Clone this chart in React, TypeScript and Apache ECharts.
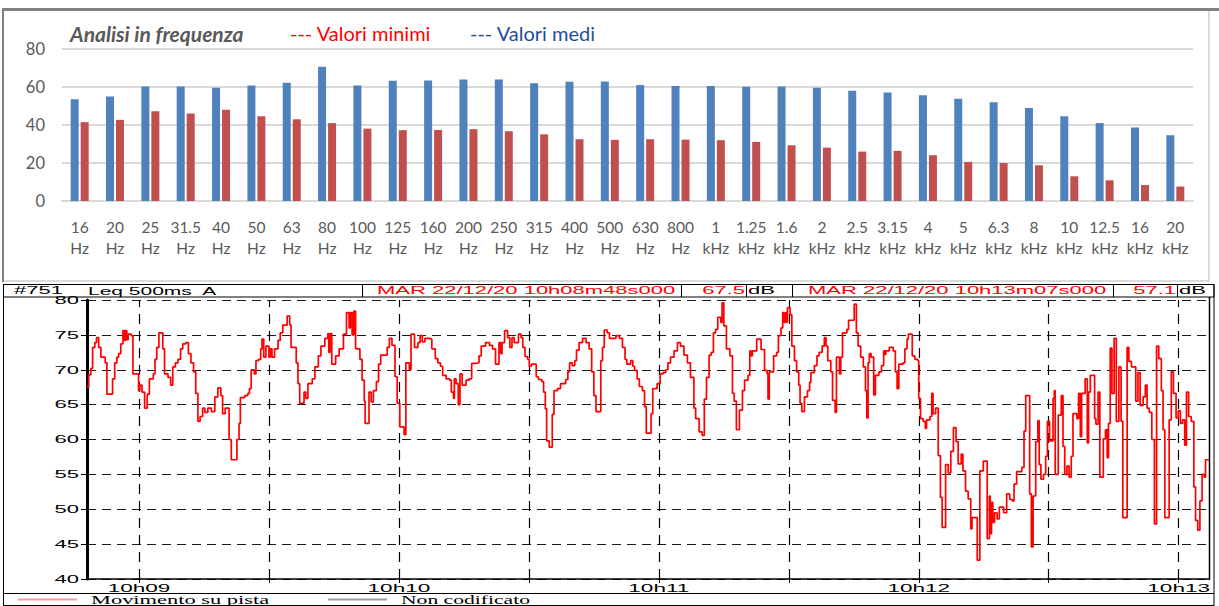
import React, { useEffect, useRef } from 'react';
import * as echarts from 'echarts';

// ---------- Top panel: frequency analysis ----------
const bandLabels = [
  '16\nHz', '20\nHz', '25\nHz', '31.5\nHz', '40\nHz', '50\nHz', '63\nHz', '80\nHz',
  '100\nHz', '125\nHz', '160\nHz', '200\nHz', '250\nHz', '315\nHz', '400\nHz', '500\nHz',
  '630\nHz', '800\nHz', '1\nkHz', '1.25\nkHz', '1.6\nkHz', '2\nkHz', '2.5\nkHz', '3.15\nkHz',
  '4\nkHz', '5\nkHz', '6.3\nkHz', '8\nkHz', '10\nkHz', '12.5\nkHz', '16\nkHz', '20\nkHz',
];
const meanLevels = [
  53.6, 55, 60.3, 60.3, 59.6, 60.8, 62.2, 70.7, 60.8, 63.3, 63.4, 64, 64, 62, 62.7, 62.9,
  61, 60.5, 60.5, 60.1, 60.3, 59.6, 58, 57.1, 55.7, 53.8, 52, 48.9, 44.6, 41, 38.7, 34.6,
];
const minLevels = [
  41.5, 42.7, 47.3, 46, 48, 44.6, 43, 41, 38.1, 37.3, 37.4, 37.8, 36.7, 35.1, 32.5, 32.2,
  32.5, 32.3, 32, 31.1, 29.3, 28.1, 26, 26.4, 24.1, 20.6, 20, 18.8, 13, 10.9, 8.4, 7.6,
];
const barTitle = 'Analisi in frequenza';
const minLegend = '--- Valori minimi';
const meanLegend = '--- Valori medi';

// ---------- Bottom panel: Leq 500ms A time history ----------
const traceStartSecond = 528; // 10h08m48s (seconds after 10h00)
const traceEndSecond = 787; // 10h13m07s
// [seconds after start, dB]
const levelTrace: [number, number][] = [
  [0, 67.5], [0.4, 69.3], [0.9, 70.2], [1.3, 73.2], [1.8, 73.9], [2.2, 74.6], [2.7, 73.2], [3.2, 71.8],
  [4.2, 71], [4.6, 66.5], [5.9, 68.7], [6.4, 71], [6.9, 71.8], [7.3, 72.3], [7.8, 73.7], [8.3, 75.6],
  [8.7, 74.2], [8.9, 75.6], [9.2, 74.3], [9.5, 75.1], [10.2, 74.9], [10.6, 69.4], [11.9, 67], [12.2, 67.8],
  [12.7, 66.8], [13.3, 64.5], [13.9, 66.5], [14.4, 68.7], [15.3, 69.4], [15.7, 71.5], [16.1, 73.2], [16.6, 75.3],
  [17.5, 73], [17.9, 69.4], [18.7, 68.9], [19.3, 67.8], [19.8, 70.4], [20.4, 71], [21, 71.5], [21.6, 73],
  [22.1, 73.7], [22.8, 73.9], [23.4, 72.3], [24, 71], [24.6, 69.7], [25.1, 66.6], [25.6, 62.6], [26.1, 63.3],
  [26.7, 64.5], [27.2, 63.9], [27.9, 64.5], [28.7, 64], [29.5, 66.1], [30.2, 67.4], [30.9, 66.3], [31.3, 63.7],
  [31.9, 64.5], [32.8, 60], [33.3, 57.1], [34.6, 60], [35.1, 62.3], [35.4, 66], [36.4, 66.3], [37.1, 66.6],
  [37.5, 67.3], [37.9, 70], [38.6, 69.4], [39, 71.3], [39.6, 71.5], [40.1, 73], [40.4, 74.4], [40.8, 71.8],
  [41.3, 73.4], [42, 71.8], [42.3, 73], [42.7, 71.8], [43.3, 73], [44.1, 74.2], [44.6, 75.3], [45.2, 76.4],
  [46.2, 77.7], [46.8, 76.4], [47.1, 73.2], [48.3, 71], [48.7, 68], [49.1, 65.2], [50.1, 66.8], [50.5, 65.9],
  [51, 68], [52, 68.7], [52.6, 70.4], [53.4, 72], [54, 73.4], [54.9, 74.5], [55.6, 75.2], [55.8, 72.5],
  [56.1, 75.2], [56.5, 70.8], [57.4, 72], [58.2, 73], [59.2, 75.1], [59.9, 78.2], [60.5, 76], [60.8, 78.2],
  [61.2, 75], [61.6, 78.4], [62, 73], [63, 71.5], [63.5, 68.5], [64, 65.5], [64.2, 62.3], [65.1, 66.8],
  [65.6, 65.4], [66.1, 67], [66.8, 68.3], [67.3, 70.8], [67.8, 72.1], [69.3, 73.2], [69.8, 74.5], [70.4, 73.5],
  [71.1, 69], [71.6, 65.2], [72.2, 61.8], [73.2, 60.7], [73.6, 71], [74.4, 70], [74.8, 75.1], [75.6, 73.2],
  [76.4, 73.9], [76.9, 74.9], [77.4, 74], [78, 74.5], [79, 74.4], [79.6, 73], [80.4, 71.6], [81, 71],
  [81.6, 70.5], [82.1, 69.2], [82.9, 68.7], [83.7, 68.5], [84.1, 66.8], [84.6, 65.9], [84.8, 68.7], [85.2, 68],
  [85.7, 65], [86.1, 69.4], [86.6, 67.8], [87.5, 68.5], [88.2, 68.7], [88.8, 70.9], [89.8, 71], [90.5, 72],
  [91, 73.4], [92, 73.9], [92.9, 73.5], [93.6, 73], [94.3, 70.8], [95.1, 73.9], [95.5, 72.3], [95.8, 73.9],
  [96.4, 75.6], [97.1, 74.6], [97.6, 73.2], [98.1, 74.6], [98.6, 73.9], [99.6, 75.1], [100.2, 74.6], [100.6, 73.2],
  [101.1, 71.9], [101.7, 71.5], [102.1, 70.5], [102.6, 70.8], [103.7, 69], [104.2, 68.6], [105, 68.3], [105.4, 66.8],
  [105.8, 64.4], [106.1, 59.8], [106.7, 58.9], [107.4, 63.6], [107.8, 67], [108.6, 67.3], [109.3, 68], [110.5, 68.6],
  [111, 69.7], [111.4, 71], [112, 70.6], [112.6, 71.3], [113, 72.8], [113.6, 73.9], [114.4, 74.5], [115.2, 73.9],
  [115.9, 73], [116.5, 69.7], [117, 66.3], [117.5, 64], [118.6, 71.3], [119, 73.2], [119.4, 75.7], [120.1, 75.3],
  [120.6, 74.5], [122.1, 74.9], [122.9, 74.5], [123.6, 73.2], [124.2, 71.5], [124.6, 70.8], [125.5, 71.3], [126, 70.5],
  [126.4, 69.9], [127, 68.7], [127.5, 67.6], [128.2, 67], [128.7, 64.7], [129.1, 60.9], [130.2, 63.7], [130.6, 67.3],
  [131.6, 68], [132.3, 69.4], [133, 69.6], [133.6, 70], [134.1, 71], [134.7, 71.8], [135.5, 72.7], [136.3, 73.9],
  [137, 73.4], [137.8, 72.1], [138.6, 71], [139.3, 68.9], [140.1, 64.5], [140.5, 63], [141.3, 61.1], [142, 60.6],
  [142.5, 65.8], [143, 68.9], [143.6, 72.1], [144.1, 72.5], [144.6, 75.3], [145.1, 75.8], [145.6, 77.5], [146.3, 76.8],
  [146.6, 79.6], [147, 76.3], [147.6, 73], [148.4, 72], [149, 66.6], [149.4, 65.5], [149.9, 61.4], [150.6, 64.2],
  [151.3, 67], [151.8, 68.5], [152.6, 69.2], [153, 72.7], [153.3, 72], [153.6, 72.7], [154.6, 74.4], [155.6, 72.9],
  [156.4, 69.9], [157, 69.4], [157.2, 65.8], [157.5, 69.7], [158.5, 72], [159.2, 72.5], [159.6, 74.9], [160.2, 76],
  [160.6, 78.2], [160.9, 76.8], [161.2, 78.2], [161.5, 76.8], [161.7, 78.9], [162.3, 77.9], [162.7, 73.4], [163.3, 71.3],
  [163.8, 69.7], [164.3, 67.8], [164.6, 65.2], [165, 64], [165.6, 66.1], [166.3, 67], [166.8, 68.2], [167.1, 69.6],
  [167.9, 70.6], [168.5, 72], [169, 72.5], [169.7, 73.4], [170.2, 74.6], [170.6, 73.4], [171, 71.3], [171.7, 69.7],
  [172.1, 65.6], [172.7, 63.9], [173, 71.8], [173.7, 69.4], [174, 71.8], [174.4, 75.3], [175.4, 75.8], [175.8, 77.1],
  [177.1, 79.4], [177.6, 75.3], [178, 73.4], [178.6, 71.8], [179.2, 70.4], [179.7, 67], [180, 63.1], [180.3, 71],
  [180.6, 72.3], [181, 71.8], [181.6, 66.4], [182, 69.2], [182.8, 69.7], [183.4, 70.6], [183.9, 72.7], [184.2, 72.2],
  [184.4, 72.7], [185.2, 73.2], [186.1, 72.7], [186.6, 69.7], [187, 67.3], [187.4, 70.8], [188.4, 71], [188.8, 73],
  [189.3, 74.4], [189.6, 75.1], [190.5, 72], [191.1, 71.5], [191.8, 71.3], [192, 65.9], [192.4, 63], [193, 62.6],
  [193.5, 61.6], [193.8, 62.8], [194.6, 63.3], [195, 66.6], [195.3, 63.7], [195.9, 64.5], [196.5, 57.7], [197, 51.7],
  [197.4, 47.4], [198.2, 56.4], [198.8, 55.2], [199.4, 58.3], [200, 61.7], [200.6, 59.7], [201.1, 56.5], [201.8, 57.9],
  [202.2, 55.5], [202.8, 52.6], [203.4, 51.5], [204, 47.2], [204.3, 48.8], [205.5, 42.7], [206.1, 55.5], [206.9, 56.9],
  [207.8, 45.8], [208.3, 51.9], [208.5, 46.5], [208.8, 51], [209.1, 48.1], [209.5, 49.5], [210.1, 48.6], [210.6, 50.3],
  [211.6, 49.5], [212.3, 52.2], [213, 51.4], [213.6, 51.2], [214, 53.6], [214.6, 55.4], [215.8, 56], [216.3, 61.2],
  [216.7, 66.3], [217.6, 52.2], [218, 44.6], [218.4, 51.9], [219, 59.7], [219.5, 62.7], [219.8, 56.4], [220.2, 54.3],
  [220.8, 55], [221.3, 57.6], [221.7, 62.6], [222.2, 59.8], [223, 65.9], [223.3, 67], [223.5, 55], [224.2, 63.5],
  [224.9, 66.3], [225.3, 59], [225.7, 55], [226.2, 56.2], [226.7, 54.6], [227.2, 57.6], [227.6, 63.7], [228.5, 63],
  [228.9, 66.6], [229.3, 60.4], [229.6, 66.6], [230.4, 68.7], [230.9, 59.5], [231.2, 66.8], [231.6, 69.2], [232.6, 63],
  [232.9, 62.2], [233.4, 66.8], [233.8, 54.6], [234.6, 60.1], [235.1, 61.4], [235.5, 57.4], [235.8, 62.3], [236.2, 73.1],
  [236.6, 66.6], [237.1, 74.5], [237.6, 62.6], [238.2, 70.4], [238.7, 62.6], [239.1, 48.8], [240.1, 73.2], [240.5, 71.2],
  [241.1, 70.4], [242.1, 65.5], [242.6, 69.6], [243.1, 64.9], [243.8, 66.1], [244.3, 67.8], [244.7, 64.5], [245.2, 63.9],
  [245.8, 60], [246.4, 47.9], [246.9, 73.4], [247.4, 71.6], [248, 67], [248.4, 61.4], [248.8, 48.8], [249.8, 62.8],
  [250.3, 69.7], [250.8, 66.6], [251.4, 63.1], [251.9, 64.1], [252.4, 62.3], [252.9, 62.8], [253.4, 59.2], [253.8, 66.8],
  [254.3, 63.3], [254.9, 62.6], [255.5, 53.2], [255.9, 48.4], [256.4, 47], [256.9, 51.2], [257.4, 55], [257.9, 54.6],
  [258.2, 57.1], [259, 57.1],
];
const minuteMarks = [540, 600, 660, 720, 780];
const halfMinuteMarks = [540, 570, 600, 630, 660, 690, 720, 750, 780];
const dbTicks = [40, 45, 50, 55, 60, 65, 70, 75, 80];
const headerLeft = ['#751', 'Leq 500ms  A'];
const cursorStart = { label: 'MAR 22/12/20 10h08m48s000', level: '67.5', unit: 'dB' };
const cursorEnd = { label: 'MAR 22/12/20 10h13m07s000', level: '57.1', unit: 'dB' };
const legendNames = ['Movimento su pista', 'Non codificato'];

const SANS = 'Liberation Sans, Arial, sans-serif';
const SERIF = 'Liberation Serif, Times New Roman, serif';
const TOPFONT = 'Lato, Open Sans, sans-serif';

function txt(x: number, y: number, text: string, opts: any = {}) {
  return {
    type: 'text',
    x,
    y,
    scaleX: opts.scaleX ?? 1,
    z: 20,
    silent: true,
    style: {
      text,
      x: 0,
      y: 0,
      fill: opts.fill ?? '#000',
      fontSize: opts.fontSize ?? 10,
      fontFamily: opts.fontFamily ?? SANS,
      fontWeight: opts.fontWeight ?? 'normal',
      fontStyle: opts.fontStyle ?? 'normal',
      align: opts.align ?? 'left',
      textAlign: opts.align ?? 'left',
      verticalAlign: 'middle',
      textVerticalAlign: 'middle',
    },
  };
}
function ln(x1: number, y1: number, x2: number, y2: number, stroke: string, lineWidth = 1) {
  return { type: 'line', z: 20, silent: true, shape: { x1, y1, x2, y2 }, style: { stroke, lineWidth } };
}

export default function App() {
  const ref = useRef<HTMLDivElement>(null);

  useEffect(() => {
    if (!ref.current) return;
    const chart = echarts.init(ref.current, null, { renderer: 'svg' });

    chart.setOption({
      animation: false,
      backgroundColor: '#ffffff',
      grid: [
        { left: 62, top: 49, width: 1131, height: 152, containLabel: false },
        { left: 87, top: 300, width: 1122, height: 279, containLabel: false },
      ],
      xAxis: [
        {
          type: 'category',
          gridIndex: 0,
          data: bandLabels,
          axisLine: { show: true, lineStyle: { color: '#d9d9d9', width: 2 } },
          axisTick: { show: false },
          axisLabel: {
            interval: 0,
            color: '#595959',
            fontSize: 15.5,
            lineHeight: 21,
            margin: 15,
            fontFamily: TOPFONT,
          },
        },
        {
          type: 'value',
          gridIndex: 1,
          min: traceStartSecond,
          max: traceEndSecond,
          axisLine: { show: true, onZero: false, lineStyle: { color: '#000', width: 1.5 } },
          axisTick: { show: true, customValues: halfMinuteMarks, length: 4, lineStyle: { color: '#000', width: 1 } },
          axisLabel: { show: false },
          splitLine: { show: false },
        },
      ],
      yAxis: [
        {
          type: 'value',
          gridIndex: 0,
          min: 0,
          max: 80,
          interval: 20,
          axisLine: { show: false },
          axisTick: { show: false },
          axisLabel: { color: '#595959', fontSize: 16.5, margin: 17, fontFamily: TOPFONT },
          splitLine: { lineStyle: { color: '#d9d9d9', width: 2 } },
        },
        {
          type: 'value',
          gridIndex: 1,
          min: 40,
          max: 80,
          interval: 5,
          axisLine: { show: true, lineStyle: { color: '#000', width: 3 } },
          axisTick: { show: true, length: 6, lineStyle: { color: '#000', width: 1 } },
          axisLabel: { show: false },
          splitLine: { show: true, lineStyle: { color: '#1a1a1a', width: 1.2, type: [9, 6] } },
        },
      ],
      series: [
        {
          name: 'Valori medi',
          type: 'bar',
          xAxisIndex: 0,
          yAxisIndex: 0,
          data: meanLevels,
          barWidth: 8,
          barGap: '25%',
          itemStyle: { color: '#4f81bd' },
          silent: true,
        },
        {
          name: 'Valori minimi',
          type: 'bar',
          xAxisIndex: 0,
          yAxisIndex: 0,
          data: minLevels,
          barWidth: 8,
          barGap: '25%',
          itemStyle: { color: '#c0504d' },
          silent: true,
        },
        {
          name: legendNames[0],
          type: 'line',
          xAxisIndex: 1,
          yAxisIndex: 1,
          step: 'end',
          showSymbol: false,
          symbol: 'none',
          silent: true,
          z: 5,
          data: levelTrace.map(([t, v]) => [traceStartSecond + t, v]),
          lineStyle: { color: '#ff0000', width: 1.7 },
          markLine: {
            silent: true,
            symbol: ['none', 'none'],
            label: { show: false },
            lineStyle: { color: '#000', width: 1.2, type: [10, 7] },
            data: halfMinuteMarks.map((s) => ({ xAxis: s })),
          },
        },
      ],
    });

    const lower = { gridIndex: 1 };
    const axisTexts: any[] = [];
    minuteMarks.forEach((s) => {
      const p = chart.convertToPixel(lower as any, [s, 40]) as number[];
      const label = `10h${String(Math.floor(s / 60)).padStart(2, '0')}`;
      axisTexts.push(txt(p[0], p[1] + 9.5, label, { fontSize: 11, scaleX: 2.05, align: 'center' }));
    });
    dbTicks.forEach((v) => {
      const p = chart.convertToPixel(lower as any, [traceStartSecond, v]) as number[];
      axisTexts.push(txt(p[0] - 8, p[1], String(v), { fontSize: 11, scaleX: 2.0, align: 'right' }));
    });

    const graphics: any[] = [
      // top panel frame
      { type: 'rect', z: 1, silent: true, shape: { x: 3, y: 10, width: 1206, height: 271 }, style: { fill: 'none', stroke: '#d0d0d0', lineWidth: 1.5 } },
      ln(2, 9.5, 1219, 9.5, '#808080', 3),
      ln(3, 9, 3, 282, '#808080', 2),
      // top panel title & legend
      txt(70, 33, barTitle, { fontSize: 21, fontFamily: TOPFONT, fontWeight: 'bold', fontStyle: 'italic', fill: '#595959' }),
      txt(290, 33, minLegend, { fontSize: 20, fontFamily: TOPFONT, fill: '#ff0000' }),
      txt(470, 33, meanLegend, { fontSize: 20, fontFamily: TOPFONT, fill: '#1f4e9a' }),
      // bottom header boxes
      { type: 'rect', z: 20, silent: true, shape: { x: 3.5, y: 284.5, width: 1210.5, height: 12.5 }, style: { fill: 'none', stroke: '#000', lineWidth: 1 } },
      ...[362, 681, 746, 792, 1113, 1177].map((x) => ln(x + 0.5, 284.5, x + 0.5, 297, '#000', 1)),
      txt(14, 291, headerLeft[0], { scaleX: 2.2 }),
      txt(88, 291, headerLeft[1], { scaleX: 2.1 }),
      txt(377, 291, cursorStart.label, { scaleX: 2.2, fill: '#ff0000' }),
      txt(745, 291, cursorStart.level, { scaleX: 2.2, fill: '#ff0000', align: 'right' }),
      txt(748, 291, cursorStart.unit, { scaleX: 2.2 }),
      txt(808, 291, cursorEnd.label, { scaleX: 2.2, fill: '#ff0000' }),
      txt(1176, 291, cursorEnd.level, { scaleX: 2.2, fill: '#ff0000', align: 'right' }),
      txt(1179, 291, cursorEnd.unit, { scaleX: 2.2 }),
      // plot and panel borders
      ln(1209.5, 297, 1209.5, 580, '#000', 1.5),
      ln(3.5, 284, 3.5, 606, '#000', 1),
      ln(1214, 284, 1214, 606, '#000', 1),
      ln(3, 593.5, 1214, 593.5, '#000', 1),
      ln(3, 605.5, 1214, 605.5, '#000', 1),
      // bottom legend
      ln(18, 599.5, 77, 599.5, '#ff9a9a', 2),
      txt(91, 600, legendNames[0], { fontSize: 12, fontFamily: SERIF, scaleX: 1.87 }),
      ln(328, 599.5, 387, 599.5, '#a0a0a0', 2),
      txt(401, 600, legendNames[1], { fontSize: 12, fontFamily: SERIF, scaleX: 1.8 }),
      ...axisTexts,
    ];

    chart.setOption({ graphic: graphics });

    return () => chart.dispose();
  }, []);

  return (
    <div
      ref={ref}
      style={{ position: 'absolute', left: 0, top: 0, width: 1219, height: 606, background: '#fff' }}
    />
  );
}
